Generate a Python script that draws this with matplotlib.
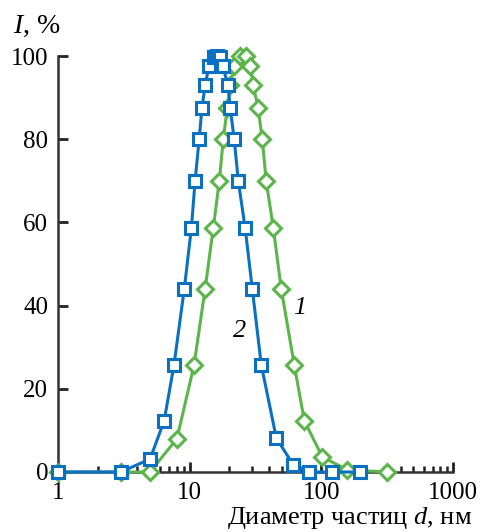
import matplotlib
matplotlib.use('Agg')
import matplotlib.pyplot as plt

plt.rcParams['font.family'] = 'Liberation Serif'
plt.rcParams['mathtext.fontset'] = 'custom'
plt.rcParams['mathtext.rm'] = 'Liberation Serif'
plt.rcParams['mathtext.it'] = 'Liberation Serif:italic'

# Curve 1 (green diamonds)
d1 = [1, 3, 5.0, 8.0, 10.8, 13.1, 15.1, 16.8, 18.0, 19.3, 20.3, 21.8,
      24.2, 26.9, 28.9, 30.4, 33.1, 35.6, 38.1, 43.2, 49.6, 62.3, 74.3,
      101.8, 158, 317]
i1 = [0, 0, 0, 8, 25.7, 44, 58.6, 70, 80, 87.5, 93, 97.5,
      100, 100, 97.5, 93, 87.5, 80, 70, 58.6, 44, 25.7, 12.3,
      3.6, 0.5, 0]

# Curve 2 (blue squares)
d2 = [1, 3, 5.0, 6.4, 7.6, 9.1, 10.3, 11.0, 11.8, 12.4, 13.1, 14.0,
      15.3, 16.2, 17.0, 17.8, 19.6, 20.3, 21.8, 23.4, 26.4, 29.9, 35.0,
      45.5, 61.2, 81, 121, 198]
i2 = [0, 0, 3.1, 12.3, 25.7, 44, 58.6, 70, 80, 87.5, 93, 97.5,
      99.7, 100, 99.7, 97.5, 93, 87.5, 80, 70, 58.6, 44, 25.7,
      8.2, 1.7, 0, 0, 0]

green = '#5cb54a'
blue = '#0a71c2'

fig = plt.figure(figsize=(4.81, 5.32), dpi=100)
ax = fig.add_axes([58 / 481, 60 / 532, 395 / 481, 416 / 532])

ax.plot(d1, i1, color=green, lw=2.2, marker='D', ms=8, mfc='white',
        mec=green, mew=2.2, clip_on=False, zorder=3)
ax.plot(d2, i2, color=blue, lw=2.2, marker='s', ms=9, mfc='white',
        mec=blue, mew=2.2, clip_on=False, zorder=4)

ax.set_xscale('log')
ax.set_xlim(1, 1000)
ax.set_ylim(0, 100)
ax.set_yticks([0, 20, 40, 60, 80, 100])
ax.set_xticks([1, 10, 100, 1000])
ax.set_xticklabels(['1', '10', '100', '1000'])

for side in ['top', 'right']:
    ax.spines[side].set_visible(False)
for side in ['left', 'bottom']:
    ax.spines[side].set_color('#333333')
    ax.spines[side].set_linewidth(1.8)

ax.tick_params(which='major', direction='in', length=7, width=2,
               color='#222222', labelsize=18, pad=7)
ax.tick_params(which='minor', direction='in', length=4, width=1.8,
               color='#222222')
ax.tick_params(axis='y', which='minor', left=False)

ax.text(68, 39.5, '1', fontsize=19, style='italic', ha='center', va='center')
ax.text(24, 34, '2', fontsize=19, style='italic', ha='center', va='center')

fig.text(13 / 481, 1 - 33 / 532, '$I$, %', fontsize=20, ha='left',
         va='baseline')
fig.text(472 / 481, 1 - 524 / 532, 'Диаметр частиц $d$, нм', fontsize=19,
         ha='right', va='baseline')

fig.savefig('out.png', dpi=100)
